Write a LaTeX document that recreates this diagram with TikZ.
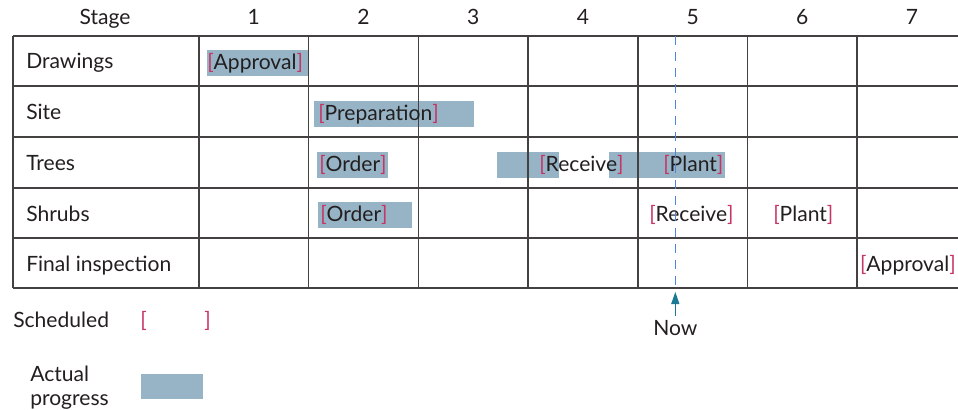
\documentclass[tikz,border=0pt]{standalone}
\usepackage{fontspec}
\setmainfont{Lato}
\usepackage{xcolor}
\usetikzlibrary{arrows.meta,positioning,calc}
\definecolor{ink}{HTML}{231F20}
\definecolor{bar}{HTML}{96B4C5}
\definecolor{brk}{HTML}{C73466}
\definecolor{nowline}{HTML}{4F86D9}
\definecolor{nowarrow}{HTML}{1A7A94}
\newcommand{\sched}[1]{{\color{brk}[}#1{\color{brk}]}}
\tikzset{
  txt/.style={inner sep=0pt,text=ink,font=\fontsize{15.8}{19.5}\selectfont},
  lbl/.style={txt,anchor=base west},
  task/.style={txt,anchor=base west},
  grid/.style={draw=ink!85,line width=1.1pt},
  prog/.style={fill=bar},
}

\begin{document}
\begin{tikzpicture}[x=0.75pt,y=-0.75pt]
  \useasboundingbox (0,0) rectangle (958,410);
  % actual progress bars (behind the grid)
  \fill[prog] (207,50) rectangle (308,75.7);
  \fill[prog] (314,101) rectangle (473.7,126.7);
  \fill[prog] (317,152) rectangle (388,177.7);
  \fill[prog] (497,152) rectangle (559,177.7);
  \fill[prog] (609,152) rectangle (725,177.7);
  \fill[prog] (318,202) rectangle (412,227.7);
  % grid
  \foreach \y in {36,86,137,188,238,288}
    \draw[grid] (13,\y) -- (958,\y);
  \draw[grid] (13,36) -- (13,288);
  \foreach \j in {0,...,6}{
    \pgfmathsetmacro\xc{199+109.7*\j}
    \draw[grid] (\xc,36) -- (\xc,288);
  }
  % header
  \node[txt,anchor=base] (stage) at (105,25) {Stage};
  \foreach \j in {1,...,7}{
    \pgfmathsetmacro\xm{199+109.7*(\j-0.5)}
    \node[txt,anchor=base] (s\j) at (\xm,25) {\j};
  }
  % row labels
  \node[lbl] (draw) at (26,68.5) {Drawings};
  \node[lbl] (site) at (26,119.5) {Site};
  \node[lbl] (tree) at (26,170.5) {Trees};
  \node[lbl] (shrub) at (26,221) {Shrubs};
  \node[lbl] (final) at (26,271.5) {Final inspection};
  % scheduled tasks
  \node[task] (dappr) at (207,69.5) {\sched{Approval}};
  \node[task] (sprep) at (318,120.5) {\sched{Preparation}};
  \node[task] (tord) at (319,171.5) {\sched{Order}};
  \node[task] (trec) at (539,171.5) {\sched{Receive}};
  \node[task] (tpl) at (663,171.5) {\sched{Plant}};
  \node[task] (shord) at (320,221.5) {\sched{Order}};
  \node[task] (shrec) at (649,221.5) {\sched{Receive}};
  \node[task] (shpl) at (773,221.5) {\sched{Plant}};
  \node[txt,anchor=base east] (fappr) at (956,271.5) {\sched{Approval}};
  % now marker
  \coordinate (nowtop) at (675.3,36);
  \coordinate (nowbot) at (675.3,288);
  \draw[nowline,line width=0.9pt,dash pattern=on 7pt off 5pt] (nowtop) -- (nowbot);
  \node[txt,anchor=base] (now) at (675.3,335) {Now};
  \coordinate (nowtip) at (675.3,292);
  \draw[nowarrow,line width=0.9pt,-{Triangle[width=6pt,length=9pt]}] (675.3,316) -- (nowtip);
  % legend
  \node[lbl] (schedleg) at (13,327) {Scheduled};
  \node[txt,anchor=base west] (lbrk) at (140,327) {\color{brk}[};
  \node[txt,anchor=base east] (rbrk) at (211,327) {\color{brk}]};
  \node[lbl] (actleg) at (30,381) {Actual};
  \node[lbl] (progleg) at (30,405) {progress};
  \fill[prog] (141,374) rectangle (203,399);
\end{tikzpicture}
\end{document}
